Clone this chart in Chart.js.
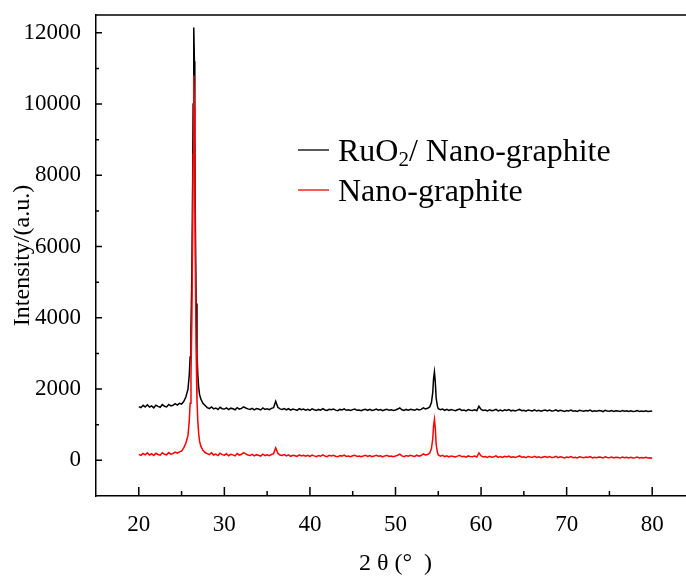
<!DOCTYPE html>
<html>
<head>
<meta charset="utf-8">
<script src="https://cdn.jsdelivr.net/npm/chart.js@4/dist/chart.umd.min.js"></script>
<style>
  html, body { margin: 0; padding: 0; background: #fff; overflow: hidden; }
  #wrap { width: 700px; height: 578px; }
</style>
</head>
<body>
<div id="wrap"><canvas id="xrd"></canvas></div>
<script>
// 2theta (deg) sampling, finer around the two main reflections
var angles = [
  20,20.25,20.5,20.75,21,21.25,21.5,21.75,22,22.25,22.5,22.75,23,23.25,23.5,23.75,24,24.25,24.5,24.75,25,25.25,25.5,25.75,
  25.9,26,26.1,26.2,26.3,26.35,26.4,26.45,26.5,26.55,26.6,26.7,26.8,26.9,27,27.1,27.25,27.5,27.75,
  28,28.25,28.5,28.75,29,29.25,29.5,29.75,30,30.25,30.5,30.75,31,31.25,31.5,31.75,32,32.25,32.5,32.75,
  33,33.25,33.5,33.75,34,34.25,34.5,34.75,35,35.25,35.5,35.75,36,36.25,36.5,36.75,37,37.25,37.5,37.75,
  38,38.25,38.5,38.75,39,39.25,39.5,39.75,40,40.25,40.5,40.75,41,41.25,41.5,41.75,42,42.25,42.5,42.75,
  43,43.25,43.5,43.75,44,44.25,44.5,44.75,45,45.25,45.5,45.75,46,46.25,46.5,46.75,47,47.25,47.5,47.75,
  48,48.25,48.5,48.75,49,49.25,49.5,49.75,50,50.25,50.5,50.75,51,51.25,51.5,51.75,52,52.25,52.5,52.75,
  53,53.25,53.5,53.75,54,
  54.2,54.35,54.45,54.55,54.65,54.75,54.9,
  55,55.25,55.5,55.75,56,56.25,56.5,56.75,57,57.25,57.5,57.75,58,58.25,58.5,58.75,59,59.25,59.5,59.75,
  60,60.25,60.5,60.75,61,61.25,61.5,61.75,62,62.25,62.5,62.75,63,63.25,63.5,63.75,64,64.25,64.5,64.75,
  65,65.25,65.5,65.75,66,66.25,66.5,66.75,67,67.25,67.5,67.75,68,68.25,68.5,68.75,69,69.25,69.5,69.75,
  70,70.25,70.5,70.75,71,71.25,71.5,71.75,72,72.25,72.5,72.75,73,73.25,73.5,73.75,74,74.25,74.5,74.75,
  75,75.25,75.5,75.75,76,76.25,76.5,76.75,77,77.25,77.5,77.75,78,78.25,78.5,78.75,79,79.25,79.5,79.75,
  80
];

var ruo2Graphite = [
  1510,1480,1545,1500,1560,1495,1530,1475,1550,1515,1490,1565,1520,1500,1570,1530,1545,1590,1550,1600,1580,1650,1780,2000,
  2400,2900,3700,5200,8000,10000,11600,12150,11200,9200,7000,4400,3000,2400,2050,1850,1720,1600,1540,
  1480,1455,1500,1445,1470,1430,1490,1450,1440,1475,1425,1465,1450,1420,1480,1440,1460,1500,1470,1445,
  1430,1460,1420,1455,1440,1415,1470,1430,1450,1425,1460,1480,1660,1490,1445,1430,1455,1420,1450,1410,
  1440,1425,1405,1450,1420,1440,1410,1435,1405,1445,1420,1400,1430,1410,1450,1415,1400,1435,1420,1440,
  1410,1395,1430,1415,1445,1405,1420,1400,1425,1440,1405,1415,1395,1420,1435,1405,1430,1400,1415,1440,
  1410,1425,1395,1420,1435,1405,1420,1400,1415,1440,1470,1420,1400,1430,1410,1435,1420,1405,1440,1415,
  1430,1475,1445,1460,1500,
  1620,1900,2300,2480,2200,1750,1520,
  1450,1420,1440,1405,1430,1400,1425,1410,1395,1420,1440,1400,1415,1390,1425,1405,1400,1420,1395,1520,
  1430,1400,1415,1390,1420,1395,1405,1430,1390,1410,1385,1420,1400,1425,1390,1405,1385,1410,1430,1395,
  1405,1380,1415,1400,1390,1420,1385,1405,1380,1400,1415,1390,1410,1385,1395,1420,1380,1405,1390,1375,
  1400,1385,1410,1380,1395,1375,1405,1390,1380,1400,1385,1410,1375,1395,1380,1400,1390,1370,1405,1385,
  1380,1400,1375,1395,1385,1370,1400,1380,1395,1375,1390,1370,1380,1400,1375,1385,1370,1390,1375,1380,
  1385
];

var nanoGraphite = [
  170,140,195,155,210,150,185,135,200,165,145,215,170,155,220,175,190,230,200,240,260,350,480,700,
  1100,1600,2400,3900,6600,8600,10200,10800,9900,7900,5700,3100,1700,1100,750,540,400,280,220,
  190,160,215,150,175,135,200,160,145,185,130,170,155,125,190,145,170,215,180,150,
  135,170,125,160,145,120,175,135,155,130,165,190,350,200,150,135,160,125,155,115,
  145,130,110,155,125,145,115,140,110,150,125,105,135,115,155,120,105,140,125,145,
  115,100,135,120,150,110,125,105,130,145,110,120,100,125,140,110,135,105,120,145,
  115,130,100,125,140,110,125,105,120,145,175,125,105,135,115,140,125,110,145,120,
  135,180,150,165,205,
  330,600,980,1150,900,450,220,
  150,120,140,105,130,100,125,110,95,120,140,100,115,90,125,105,100,120,95,210,
  125,95,110,85,115,90,100,125,85,105,80,115,95,120,85,100,80,105,125,90,
  100,75,110,95,85,115,80,100,75,95,110,85,105,80,90,115,75,100,85,70,
  95,80,105,75,90,70,100,85,75,95,80,105,70,90,75,95,85,65,100,80,
  75,95,70,90,80,65,95,75,90,70,85,65,75,95,70,80,65,85,70,75,
  60
];

var xTicks = [20, 30, 40, 50, 60, 70, 80];
var xMinor = [25, 35, 45, 55, 65, 75];
var yTicks = [0, 2000, 4000, 6000, 8000, 10000, 12000];
var yMinor = [1000, 3000, 5000, 7000, 9000, 11000];

var seriesNames = ['RuO2/ Nano-graphite', 'Nano-graphite'];
var seriesColors = ['#000000', '#ff0000'];

function pts(ys) {
  return angles.map(function (a, i) { return { x: a, y: ys[i] }; });
}

var serif = '"Liberation Serif", "Times New Roman", serif';

// inward tick marks, top frame line and the in-plot legend
var framePlugin = {
  id: 'frame',
  afterDraw: function (chart) {
    var ctx = chart.ctx, a = chart.chartArea;
    var xs = chart.scales.x, ys = chart.scales.y;
    ctx.save();
    ctx.strokeStyle = '#000';
    ctx.lineWidth = 1.5;
    ctx.beginPath();
    ctx.moveTo(a.left, a.top);
    ctx.lineTo(a.right + 10, a.top);
    xTicks.forEach(function (v) {
      var p = xs.getPixelForValue(v);
      ctx.moveTo(p, a.bottom); ctx.lineTo(p, a.bottom - 9);
    });
    xMinor.forEach(function (v) {
      var p = xs.getPixelForValue(v);
      ctx.moveTo(p, a.bottom); ctx.lineTo(p, a.bottom - 5);
    });
    yTicks.forEach(function (v) {
      var p = ys.getPixelForValue(v);
      ctx.moveTo(a.left, p); ctx.lineTo(a.left + 6, p);
    });
    yMinor.forEach(function (v) {
      var p = ys.getPixelForValue(v);
      ctx.moveTo(a.left, p); ctx.lineTo(a.left + 3, p);
    });
    ctx.stroke();

    // legend
    var lx = 298, ly = [150, 190];
    ctx.textBaseline = 'alphabetic';
    ctx.textAlign = 'left';
    for (var i = 0; i < 2; i++) {
      ctx.strokeStyle = seriesColors[i];
      ctx.lineWidth = 1.3;
      ctx.beginPath();
      ctx.moveTo(lx, ly[i]); ctx.lineTo(lx + 31, ly[i]);
      ctx.stroke();
    }
    ctx.fillStyle = '#000';
    var tx = 338;
    ctx.font = '32px ' + serif;
    ctx.fillText('RuO', tx, 161);
    tx += ctx.measureText('RuO').width;
    ctx.font = '21px ' + serif;
    ctx.fillText('2', tx, 166);
    tx += ctx.measureText('2').width;
    ctx.font = '32px ' + serif;
    ctx.fillText('/ Nano-graphite', tx, 161);
    ctx.fillText(seriesNames[1], 338, 201);
    ctx.restore();
  }
};

new Chart(document.getElementById('xrd'), {
  type: 'line',
  data: {
    datasets: [
      { label: seriesNames[0], data: pts(ruo2Graphite), borderColor: seriesColors[0], borderWidth: 1.5, pointRadius: 0, order: 1 },
      { label: seriesNames[1], data: pts(nanoGraphite), borderColor: seriesColors[1], borderWidth: 1.5, pointRadius: 0, order: 0 }
    ]
  },
  options: {
    responsive: true,
    maintainAspectRatio: false,
    animation: false,
    layout: { padding: { top: 15, right: 5, left: 0, bottom: 0 } },
    plugins: { legend: { display: false }, tooltip: { enabled: false } },
    scales: {
      x: {
        type: 'linear',
        min: 15,
        max: 85,
        afterBuildTicks: function (s) { s.ticks = xTicks.map(function (v) { return { value: v }; }); },
        afterFit: function (s) { s.height = 82; s.paddingLeft = 0; s.paddingRight = 0; },
        grid: { display: false },
        border: { display: true, color: '#000', width: 1.5 },
        ticks: { color: '#000', padding: 7, maxRotation: 0, font: { family: serif, size: 23 } },
        title: { display: true, text: '2 θ (°  )', color: '#000', padding: { top: 0, bottom: 0 }, font: { family: serif, size: 24 } }
      },
      y: {
        min: -1000,
        max: 12500,
        afterBuildTicks: function (s) { s.ticks = yTicks.map(function (v) { return { value: v }; }); },
        afterFit: function (s) { s.width = 96; s.paddingTop = 0; s.paddingBottom = 0; },
        grid: { display: false },
        border: { display: true, color: '#000', width: 1.5 },
        ticks: {
          color: '#000', padding: 7, font: { family: serif, size: 23 },
          callback: function (v) { return String(v); }
        },
        title: { display: true, text: 'Intensity/(a.u.)', color: '#000', padding: { top: 8, bottom: 0 }, font: { family: serif, size: 24 } }
      }
    }
  },
  plugins: [framePlugin]
});
</script>
</body>
</html>
